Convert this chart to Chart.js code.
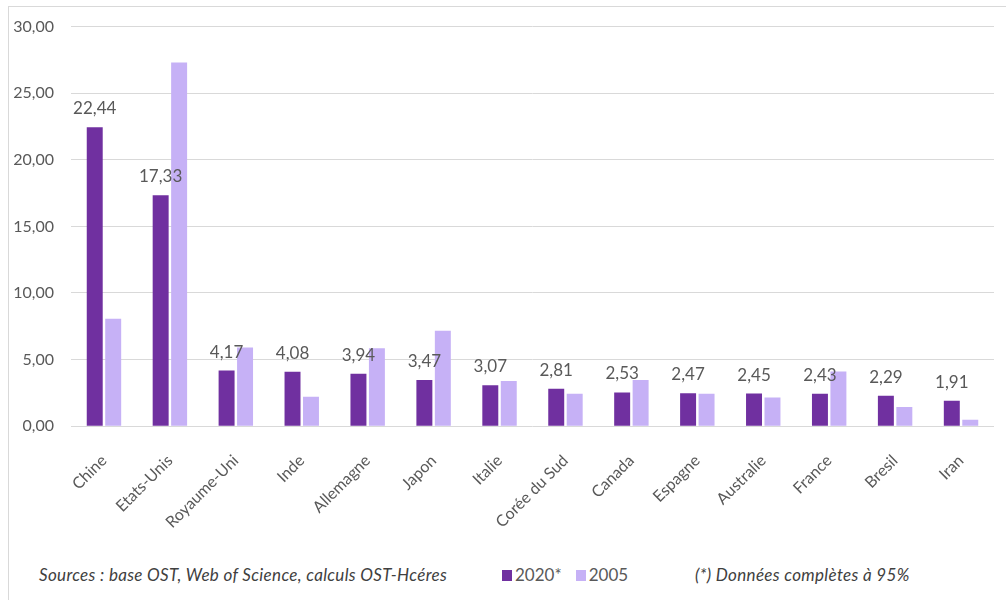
<!DOCTYPE html>
<html lang="fr">
<head>
<meta charset="utf-8">
<title>Part mondiale des publications</title>
<script src="https://cdn.jsdelivr.net/npm/chart.js@4.4.1/dist/chart.umd.min.js"></script>
<style>
  html, body { margin: 0; padding: 0; background: #ffffff; }
  body { width: 1006px; height: 600px; position: relative; overflow: hidden; font-family: Lato, "Open Sans", sans-serif; }
  #frame { position: absolute; left: 8px; top: 6px; width: 1010px; height: 600px; border: 1px solid #d9d9d9; box-sizing: border-box; }
  #chart-wrap { position: absolute; left: 0; top: 0; width: 1006px; height: 550px; }
  #footer { position: absolute; left: 0; top: 565px; width: 1006px; height: 24px; font-size: 17px; line-height: 20px; }
  .note { position: absolute; top: 0; white-space: nowrap; font-style: italic; color: #404040; letter-spacing: 0.33px; }
  #legend { position: absolute; left: 502px; top: 0; display: flex; align-items: center; height: 20px; }
  .legend-item { display: flex; align-items: center; margin-right: 14px; color: #595959; }
  .legend-box { width: 10px; height: 11px; margin-right: 3px; display: inline-block; }
</style>
</head>
<body>
<div id="frame"></div>
<div id="chart-wrap"><canvas id="chart"></canvas></div>
<div id="footer">
  <span class="note" style="left:39px">Sources : base OST, Web of Science, calculs OST-Hcéres</span>
  <div id="legend"></div>
  <span class="note" style="left:695px">(*) Données complètes à 95%</span>
</div>
<script>
const countries = ['Chine', 'Etats-Unis', 'Royaume-Uni', 'Inde', 'Allemagne', 'Japon', 'Italie',
  'Corée du Sud', 'Canada', 'Espagne', 'Australie', 'France', 'Bresil', 'Iran'];
const share2020 = [22.44, 17.33, 4.17, 4.08, 3.94, 3.47, 3.07, 2.81, 2.53, 2.47, 2.45, 2.43, 2.29, 1.91];
const share2005 = [8.06, 27.3, 5.9, 2.2, 5.85, 7.16, 3.39, 2.44, 3.47, 2.44, 2.16, 4.1, 1.43, 0.48];
const yTicks = [0, 5, 10, 15, 20, 25, 30];

const textGrey = '#595959';
const fontFamily = 'Lato, "Open Sans", sans-serif';
const fmt = v => v.toFixed(2).replace('.', ',');

// values printed above the 2020 bars
const valueLabels = {
  id: 'valueLabels',
  afterDatasetsDraw(chart) {
    const ctx = chart.ctx;
    const meta = chart.getDatasetMeta(0);
    ctx.save();
    ctx.font = '17px ' + fontFamily;
    ctx.fillStyle = textGrey;
    ctx.textAlign = 'center';
    ctx.textBaseline = 'alphabetic';
    meta.data.forEach((bar, i) => {
      ctx.fillText(fmt(share2020[i]), bar.x, bar.y - 13);
    });
    ctx.restore();
  }
};

const chart = new Chart(document.getElementById('chart'), {
  type: 'bar',
  data: {
    labels: countries,
    datasets: [
      { label: '2020*', data: share2020, backgroundColor: '#7030a0' },
      { label: '2005', data: share2005, backgroundColor: '#c6b1f6' }
    ]
  },
  options: {
    responsive: true,
    maintainAspectRatio: false,
    animation: false,
    datasets: { bar: { categoryPercentage: 0.56, barPercentage: 0.865 } },
    layout: { padding: { top: 26, left: 0, right: 12, bottom: 1 } },
    plugins: { legend: { display: false }, tooltip: { enabled: false } },
    scales: {
      x: {
        grid: { display: false },
        border: { display: false },
        // rotated labels may hang past the plot edges; do not reserve room for that
        afterFit: scale => { scale.paddingLeft = 0; scale.paddingRight = 0; },
        ticks: {
          color: textGrey,
          padding: 17,
          font: { family: fontFamily, size: 16 },
          maxRotation: 45, minRotation: 45,
          autoSkip: false
        }
      },
      y: {
        min: 0, max: 30,
        afterBuildTicks: axis => { axis.ticks = yTicks.map(v => ({ value: v })); },
        afterFit: axis => { axis.width = 71; },
        grid: { color: '#d9d9d9', lineWidth: 1, drawTicks: false },
        border: { display: false },
        ticks: {
          color: textGrey,
          padding: 17,
          font: { family: fontFamily, size: 16 },
          callback: v => fmt(v)
        }
      }
    }
  },
  plugins: [valueLabels]
});

// legend under the plot, built from the datasets
const legend = document.getElementById('legend');
chart.data.datasets.forEach(ds => {
  const item = document.createElement('span');
  item.className = 'legend-item';
  item.innerHTML = '<span class="legend-box" style="background:' + ds.backgroundColor + '"></span>' + ds.label;
  legend.appendChild(item);
});
</script>
</body>
</html>
